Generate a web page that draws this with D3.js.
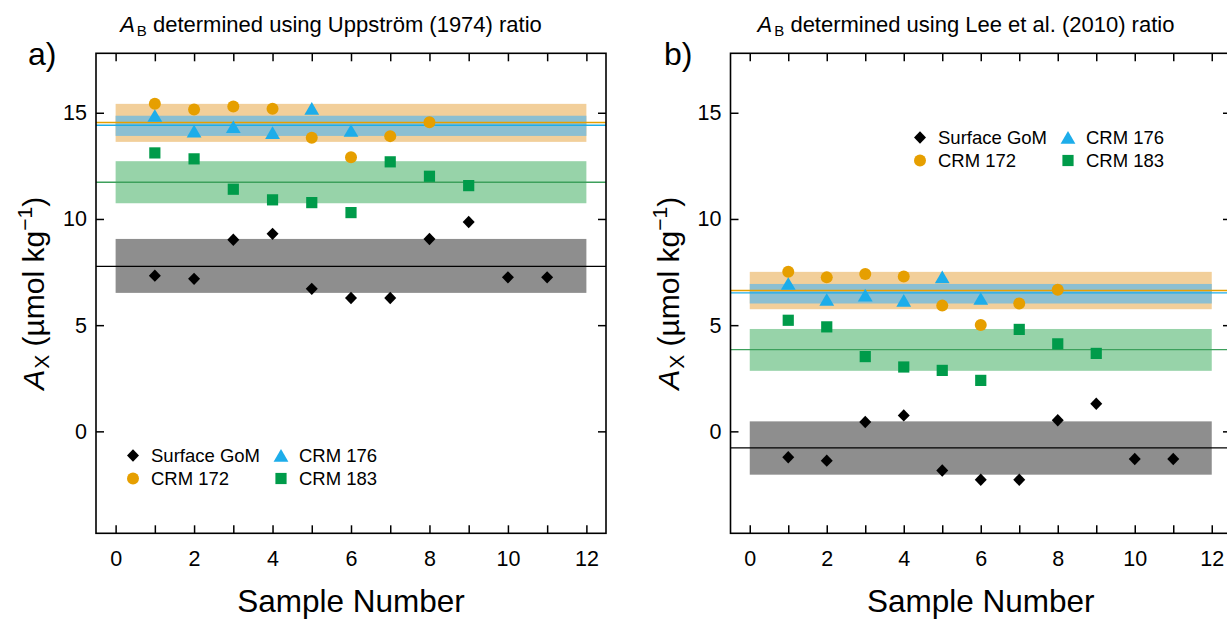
<!DOCTYPE html>
<html><head><meta charset="utf-8">
<script src="https://cdn.jsdelivr.net/npm/d3@7"></script>
<style>
body{margin:0;background:#fff}
svg{display:block}
text{font-family:"Liberation Sans",Arial,Helvetica,sans-serif;fill:#000}
</style>
</head><body>
<svg id="chart" width="1227" height="619"></svg>
<script>
// ---------- data ----------
const seriesNames = ["Surface GoM", "CRM 172", "CRM 176", "CRM 183"];
const sampleGoM = [1,2,3,4,5,6,7,8,9,10,11];
const sample172 = [1,2,3,4,5,6,7,8];
const sample176 = [1,2,3,4,5,6];
const sample183 = [1,2,3,4,5,6,7,8,9];

// panel a: Uppström (1974)
const gomA    = [7.33, 7.18, 9.02, 9.30, 6.71, 6.28, 6.28, 9.06, 9.86, 7.25, 7.25];
const crm172A = [15.42, 15.15, 15.29, 15.19, 13.82, 12.91, 13.90, 14.55];
const crm176A = [14.87, 14.13, 14.34, 14.06, 15.20, 14.16];
const crm183A = [13.11, 12.83, 11.40, 10.90, 10.77, 10.30, 12.69, 12.01, 11.57];
const meanA     = [7.77, 14.54, 14.41, 11.73];
const bandLowA  = [6.52, 13.63, 13.91, 10.74];
const bandHighA = [9.06, 15.42, 14.86, 12.72];

// panel b: Lee et al. (2010)
const gomB    = [-1.22, -1.38, 0.44, 0.75, -1.84, -2.28, -2.28, 0.52, 1.30, -1.30, -1.30];
const crm172B = [7.51, 7.25, 7.41, 7.29, 5.92, 5.01, 6.02, 6.67];
const crm176B = [6.96, 6.20, 6.41, 6.16, 7.27, 6.25];
const crm183B = [5.23, 4.92, 3.52, 3.03, 2.87, 2.40, 4.80, 4.12, 3.67];
const meanB     = [-0.78, 6.63, 6.52, 3.85];
const bandLowB  = [-2.04, 5.75, 6.02, 2.85];
const bandHighB = [0.47, 7.51, 6.94, 4.82];

const bandStart = 0, bandEnd = 12;
const xDomain = [-0.5, 12.5];
const yDomain = [-4.8, 17.8];
const xTickValues = d3.range(0, 13);
const xTickLabels = [0, 2, 4, 6, 8, 10, 12];
const yTickValues = [0, 5, 10, 15];
const titles = ["determined using Uppstr\u00f6m (1974) ratio", "determined using Lee et al. (2010) ratio"];
const panelLetters = ["a)", "b)"];

// ---------- styles ----------
const markColors = ["#000000", "#E69F00", "#1DADEA", "#009B4A"];
const lineColors = ["#000000", "#E69F00", "#1DADEA", "#3DA05C"];
const bandColors = ["#8E8E8E", "#F2CF9A", "#8CBFD1", "#97D3A9"];

const svg = d3.select("#chart");

function markPath(kind) {
  if (kind === 0) return "M0,-6.2L6,0L0,6.2L-6,0Z";           // diamond
  if (kind === 1) return d3.symbol(d3.symbolCircle, Math.PI * 36)(); // circle r=6
  if (kind === 2) return "M0,-6.4L7.4,6.2L-7.4,6.2Z";          // triangle
  return "M-5.6,-5.6H5.6V5.6H-5.6Z";                           // square
}

function drawPanel(p) {
  const g = svg.append("g");
  const x = d3.scaleLinear().domain(xDomain).range([p.left, p.right]);
  const y = d3.scaleLinear().domain(yDomain).range([p.bottom, p.top]);

  // bands (orange, blue, green, gray)
  [1, 2, 3, 0].forEach(i => {
    g.append("rect")
      .attr("x", x(bandStart)).attr("width", x(bandEnd) - x(bandStart))
      .attr("y", y(p.bandHigh[i])).attr("height", y(p.bandLow[i]) - y(p.bandHigh[i]))
      .attr("fill", bandColors[i]);
  });
  // mean lines
  [3, 0, 1, 2].forEach(i => {
    g.append("line")
      .attr("x1", x(xDomain[0])).attr("x2", x(xDomain[1]))
      .attr("y1", y(p.mean[i])).attr("y2", y(p.mean[i]))
      .attr("stroke", lineColors[i]).attr("stroke-width", 1.4);
  });

  // points
  const sets = [
    [sampleGoM, p.gom, 0], [sample172, p.c172, 1], [sample183, p.c183, 3], [sample176, p.c176, 2]
  ];
  sets.forEach(([xs, ys, k]) => {
    g.selectAll(null).data(xs.map((d, j) => [d, ys[j]])).enter().append("path")
      .attr("d", markPath(k))
      .attr("transform", d => `translate(${x(d[0])},${y(d[1])})`)
      .attr("fill", markColors[k]);
  });

  // axes with inward ticks
  const fs = "21.5px";
  const bAx = g.append("g").attr("transform", `translate(0,${p.bottom})`)
    .call(d3.axisBottom(x).tickValues(xTickValues).tickSizeInner(-8).tickSizeOuter(0).tickPadding(17)
      .tickFormat(d => xTickLabels.includes(d) ? d : ""));
  const tAx = g.append("g").attr("transform", `translate(0,${p.top})`)
    .call(d3.axisTop(x).tickValues(xTickValues).tickSizeInner(-8).tickSizeOuter(0).tickFormat(""));
  const lAx = g.append("g").attr("transform", `translate(${p.left},0)`)
    .call(d3.axisLeft(y).tickValues(yTickValues).tickSizeInner(-8).tickSizeOuter(0).tickPadding(9));
  const rAx = g.append("g").attr("transform", `translate(${p.right},0)`)
    .call(d3.axisRight(y).tickValues(yTickValues).tickSizeInner(-8).tickSizeOuter(0).tickFormat(""));
  [bAx, tAx, lAx, rAx].forEach(a => {
    a.select(".domain").remove();
    a.selectAll("line").attr("stroke", "#000").attr("stroke-width", 1.5);
    a.selectAll("text").attr("font-size", fs).attr("font-family", "Liberation Sans, Arial, sans-serif").attr("fill", "#000");
  });

  // frame
  g.append("rect").attr("x", p.left).attr("y", p.top)
    .attr("width", p.right - p.left).attr("height", p.bottom - p.top)
    .attr("fill", "none").attr("stroke", "#000").attr("stroke-width", 1.6);

  // title
  const t = g.append("text").attr("x", p.titleX).attr("y", 31.5)
    .attr("text-anchor", "middle").attr("font-size", "22px");
  t.append("tspan").attr("font-style", "italic").text("A");
  t.append("tspan").attr("font-size", "15px").attr("dy", 4).attr("dx", 2).text("B");
  t.append("tspan").attr("dy", -4).text(" " + p.title);

  // panel letter
  g.append("text").attr("x", p.letterX).attr("y", 65).attr("font-size", "32px").text(p.letter);

  // y title
  const yt = g.append("text")
    .attr("transform", `translate(${p.left - 52},${(p.top + p.bottom) / 2}) rotate(-90)`)
    .attr("text-anchor", "middle").attr("font-size", "30px");
  yt.append("tspan").attr("font-style", "italic").text("A");
  yt.append("tspan").attr("font-size", "21px").attr("dy", 5).attr("dx", 1).text("X");
  yt.append("tspan").attr("dy", -5).text(" (\u00b5mol kg");
  yt.append("tspan").attr("font-size", "21px").attr("dy", -12).text("\u22121");
  yt.append("tspan").attr("dy", 12).text(")");

  // x title
  g.append("text").attr("x", (p.left + p.right) / 2).attr("y", 611.5)
    .attr("text-anchor", "middle").attr("font-size", "31.5px").text("Sample Number");

  // legend
  const L = p.legend;
  const items = [[0, L.x1, L.y1], [1, L.x1, L.y2], [2, L.x2, L.y1], [3, L.x2, L.y2]];
  items.forEach(([k, lx, ly]) => {
    g.append("path").attr("d", markPath(k)).attr("transform", `translate(${lx},${ly})`).attr("fill", markColors[k]);
    g.append("text").attr("x", lx + 18).attr("y", ly + 6.5).attr("font-size", "18.5px").text(seriesNames[k]);
  });
}

drawPanel({
  left: 96, right: 606, top: 53.3, bottom: 533.3,
  gom: gomA, c172: crm172A, c176: crm176A, c183: crm183A,
  mean: meanA, bandLow: bandLowA, bandHigh: bandHighA,
  title: titles[0], titleX: 331, letter: panelLetters[0], letterX: 28,
  legend: {x1: 133, x2: 281, y1: 455.5, y2: 478.5}
});
drawPanel({
  left: 730.5, right: 1231, top: 53.3, bottom: 533.3,
  gom: gomB, c172: crm172B, c176: crm176B, c183: crm183B,
  mean: meanB, bandLow: bandLowB, bandHigh: bandHighB,
  title: titles[1], titleX: 966, letter: panelLetters[1], letterX: 664,
  legend: {x1: 920, x2: 1068, y1: 137.5, y2: 160.5}
});
</script>
</body></html>
